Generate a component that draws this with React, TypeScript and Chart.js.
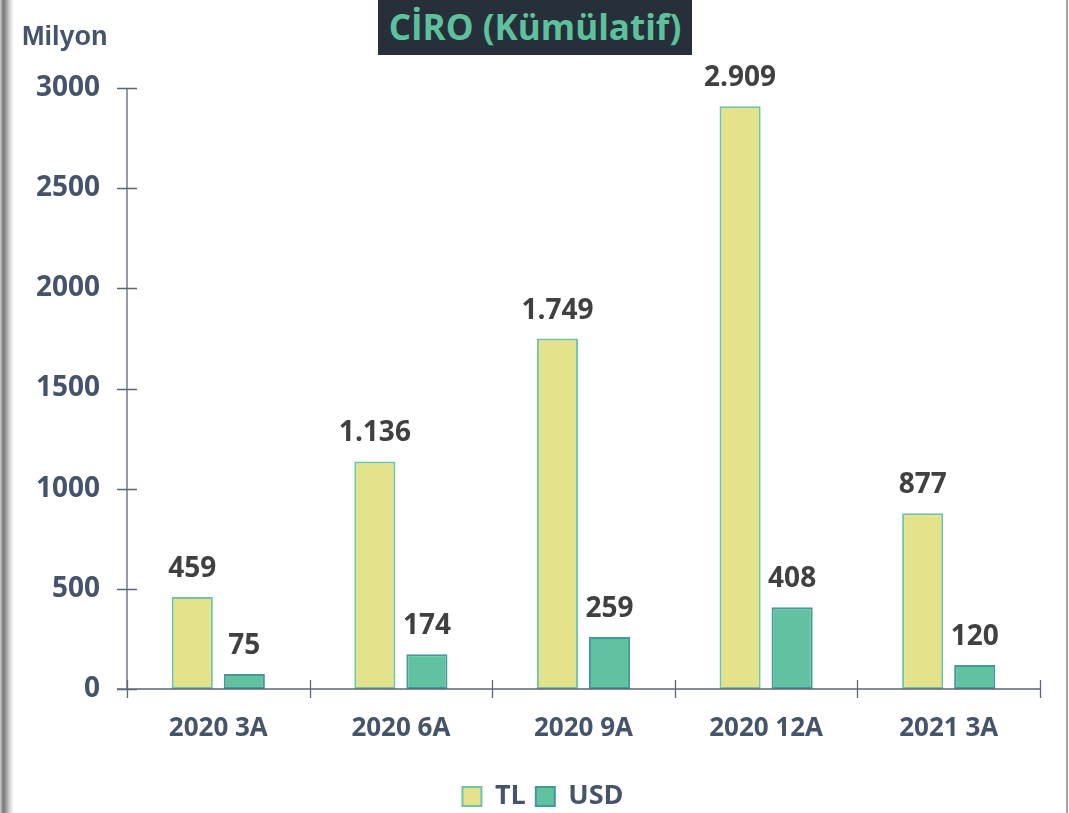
import React, { useEffect, useRef } from "react";
import { Chart, registerables } from "chart.js";

Chart.register(...registerables);

const categories = ["2020 3A", "2020 6A", "2020 9A", "2020 12A", "2021 3A"];
const tlValues = [459, 1136, 1749, 2909, 877];
const usdValues = [75, 174, 259, 408, 120];
const yTicks = [0, 500, 1000, 1500, 2000, 2500, 3000];

const AXIS_COLOR = "#5b6678";
const TEXT_COLOR = "#44546a";
const LABEL_COLOR = "#404040";
const FONT = "'Open Sans', 'DejaVu Sans', sans-serif";

const fmt = (v: number) => v.toString().replace(/\B(?=(\d{3})+(?!\d))/g, ".");

const crossTicks = {
  id: "crossTicks",
  afterDatasetsDraw(chart: any) {
    const { ctx, scales } = chart;
    const x = scales.x;
    const y = scales.y;
    ctx.save();
    ctx.strokeStyle = AXIS_COLOR;
    ctx.lineWidth = 1.3;
    const y0 = y.getPixelForValue(0);
    const xl = x.left;
    ctx.beginPath();
    ctx.moveTo(xl, y.getPixelForValue(3000));
    ctx.lineTo(xl, y0);
    ctx.moveTo(xl - 10, y0);
    ctx.lineTo(x.right, y0);
    y.ticks.forEach((t: any) => {
      const py = Math.round(y.getPixelForValue(t.value)) + 0.5;
      ctx.moveTo(xl - 10, py);
      ctx.lineTo(xl + 10, py);
    });
    for (let i = 0; i <= categories.length; i++) {
      const px = Math.round(x.getPixelForValue(i - 0.5)) + 0.5;
      ctx.moveTo(px, y0 - 9);
      ctx.lineTo(px, y0 + 9);
    }
    ctx.stroke();
    ctx.restore();
  },
};

const valueLabels = {
  id: "valueLabels",
  afterDatasetsDraw(chart: any) {
    const { ctx } = chart;
    ctx.save();
    ctx.font = `bold 28px ${FONT}`;
    ctx.fillStyle = LABEL_COLOR;
    ctx.textAlign = "center";
    ctx.textBaseline = "alphabetic";
    chart.data.datasets.forEach((ds: any, di: number) => {
      const meta = chart.getDatasetMeta(di);
      meta.data.forEach((bar: any, i: number) => {
        ctx.fillText(fmt(ds.data[i]), bar.x, bar.y - 20);
      });
    });
    ctx.restore();
  },
};

const shiftLegend = {
  id: "shiftLegend",
  afterLayout(chart: any) {
    const l = chart.legend;
    if (!l) return;
    l.left += 23;
    l.right += 23;
    l.top += 7;
    l.bottom += 7;
  },
};

export default function App() {
  const ref = useRef<HTMLCanvasElement | null>(null);

  useEffect(() => {
    if (!ref.current) return;
    const chart = new Chart(ref.current, {
      type: "bar",
      data: {
        labels: categories,
        datasets: [
          {
            label: "TL",
            data: tlValues,
            backgroundColor: "#e4e28a",
            borderColor: "#6cc6a2",
            borderWidth: 2,
            borderSkipped: false,
            categoryPercentage: 0.57,
            barPercentage: 0.79,
          },
          {
            label: "USD",
            data: usdValues,
            backgroundColor: "#60c2a0",
            borderColor: "#42999c",
            borderWidth: 2,
            borderSkipped: false,
            categoryPercentage: 0.57,
            barPercentage: 0.79,
          },
        ],
      },
      options: {
        animation: false,
        responsive: false,
        maintainAspectRatio: false,
        layout: { padding: { top: 88, right: 29, left: 0, bottom: 0 } },
        plugins: {
          title: { display: false },
          tooltip: { enabled: false },
          legend: {
            position: "bottom",
            labels: {
              color: TEXT_COLOR,
              font: { family: FONT, size: 27, weight: "bold" },
              boxWidth: 19,
              boxHeight: 19,
              padding: 10,
            },
          },
        },
        scales: {
          x: {
            grid: { display: false, drawTicks: false },
            border: { display: false },
            ticks: {
              color: TEXT_COLOR,
              font: { family: FONT, size: 26, weight: "bold" },
              padding: 24,
              maxRotation: 0,
            },
            afterFit: (s: any) => {
              s.height = 77;
            },
          },
          y: {
            min: 0,
            max: 3000,
            afterBuildTicks: (s: any) => {
              s.ticks = yTicks.map((v) => ({ value: v }));
            },
            grid: { display: false, drawTicks: false },
            border: { display: false },
            ticks: {
              color: TEXT_COLOR,
              font: { family: FONT, size: 28, weight: "bold" },
              padding: 27,
              callback: (v: any) => String(v),
            },
            afterFit: (s: any) => {
              s.width = 127;
            },
          },
        },
      },
      plugins: [crossTicks, valueLabels, shiftLegend],
    });
    return () => chart.destroy();
  }, []);

  return (
    <div
      style={{
        position: "fixed",
        left: 0,
        top: 0,
        width: 1069,
        height: 813,
        background: "#ffffff",
        overflow: "hidden",
      }}
    >
      <canvas ref={ref} width={1069} height={813} style={{ position: "absolute", left: 0, top: 0 }} />
      <div
        style={{
          position: "absolute",
          left: 0,
          top: 0,
          width: 14,
          height: 813,
          background: "linear-gradient(to right, #d0d0d0 0px, #7c7c7c 3px, #8a8a8a 5px, #d8d8d8 10px, #ffffff 14px)",
        }}
      />
      <div
        style={{
          position: "absolute",
          left: 1066,
          top: 0,
          width: 2,
          height: 813,
          background: "#a3a3a3",
        }}
      />
      <div
        style={{
          position: "absolute",
          left: 378,
          top: 0,
          width: 314,
          height: 55,
          background: "#262f3a",
          color: "#5dc29c",
          fontFamily: FONT,
          fontWeight: "bold",
          fontSize: 35,
          lineHeight: "53px",
          textAlign: "center",
          whiteSpace: "nowrap",
        }}
      >
        CİRO (Kümülatif)
      </div>
      <div
        style={{
          position: "absolute",
          left: 22,
          top: 21,
          color: TEXT_COLOR,
          fontFamily: "'Liberation Sans', Arial, sans-serif",
          fontWeight: "bold",
          fontSize: 27,
          lineHeight: "30px",
          whiteSpace: "nowrap",
        }}
      >
        Milyon
      </div>
    </div>
  );
}
